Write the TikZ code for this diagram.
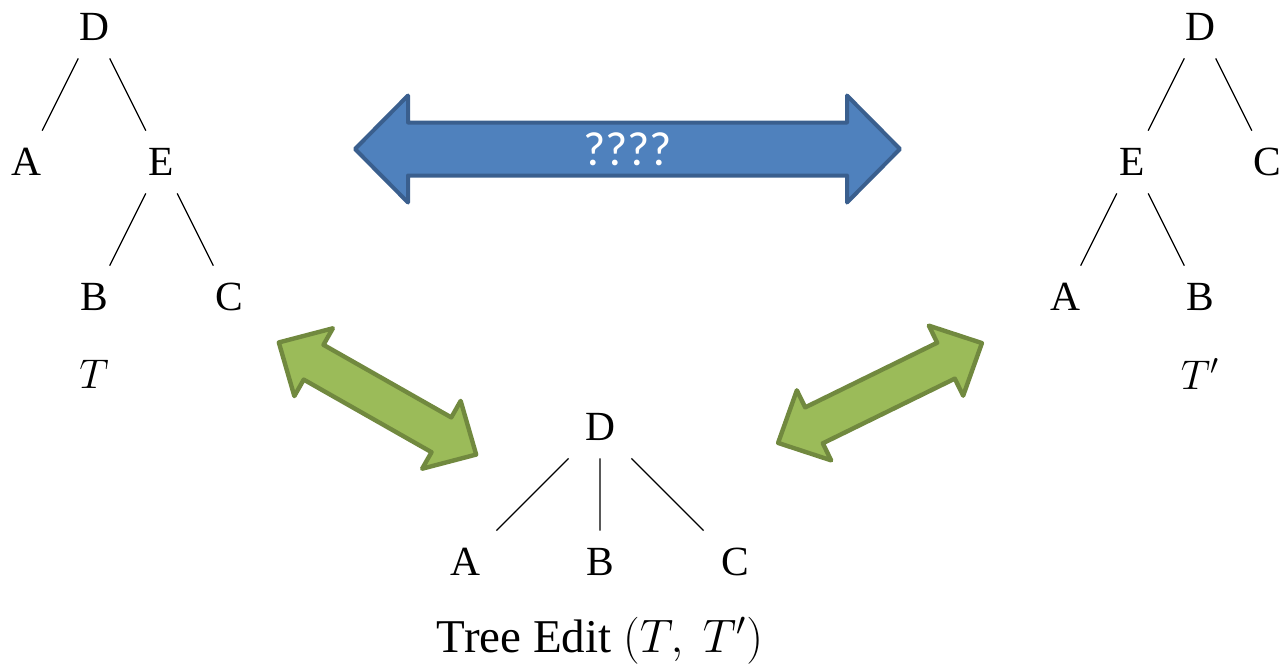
\RequirePackage{fix-cm}
\documentclass[tikz,border=0pt]{standalone}
\usepackage{fontspec}
\setmainfont{Liberation Serif}
\newfontfamily\boxfont{Carlito}
\usetikzlibrary{positioning}
\definecolor{arrowblue}{HTML}{4F81BD}
\definecolor{arrowblueline}{HTML}{3A5F8E}
\definecolor{arrowgreen}{HTML}{9BBB59}
\definecolor{arrowgreenline}{HTML}{71893F}
\tikzset{
  lbl/.style={minimum size=31pt, inner sep=0pt, font=\huge},
  branch/.style={line width=0.6pt},
  bluearrow/.style={draw=arrowblueline, fill=arrowblue, line width=2pt, line join=round},
  greenarrow/.style={draw=arrowgreenline, fill=arrowgreen, line width=2.2pt, line join=round},
  % half length, head length, head half width, shaft half width
  pics/dblarrow/.style n args={4}{code={
    \path[pic actions] (-#1,0) -- (-#1+#2,#3) -- (-#1+#2,#4) -- (#1-#2,#4)
      -- (#1-#2,#3) -- (#1,0) -- (#1-#2,-#3) -- (#1-#2,-#4)
      -- (-#1+#2,-#4) -- (-#1+#2,-#3) -- cycle;
  }}
}

\begin{document}
\begin{tikzpicture}[x=0.5pt, y=-0.5pt, on grid, node distance=67.5pt and 33.75pt]
\useasboundingbox (0,0) rectangle (1285,670);

% tree T
\node[lbl] (D1) at (94,27) {D};
\node[lbl, below left=of D1] (A1) {A};
\node[lbl, below right=of D1] (E1) {E};
\node[lbl, below left=of E1] (B1) {B};
\node[lbl, below right=of E1] (C1) {C};
\node[font=\huge, below=38.5pt of B1] (T1) {$T$};
\draw[branch] (D1) -- (A1) (D1) -- (E1) (E1) -- (B1) (E1) -- (C1);

% tree T'
\node[lbl] (D2) at (1200,27) {D};
\node[lbl, below left=of D2] (E2) {E};
\node[lbl, below right=of D2] (C2) {C};
\node[lbl, below left=of E2] (A2) {A};
\node[lbl, below right=of E2] (B2) {B};
\node[font=\huge, below=38.5pt of B2] (T2) {$T'$};
\draw[branch] (D2) -- (E2) (D2) -- (C2) (E2) -- (A2) (E2) -- (B2);

% edited tree
\node[lbl] (D3) at (600,427) {D};
\node[lbl, below left=67.5pt and 67.5pt of D3] (A3) {A};
\node[lbl, below=of D3] (B3) {B};
\node[lbl, below right=67.5pt and 67.5pt of D3] (C3) {C};
\node[font=\fontsize{23.5}{28}\selectfont, below=39.5pt of B3] (edit) {Tree Edit $(T,\ T')$};
\draw[branch] (D3) -- (A3) (D3) -- (B3) (D3) -- (C3);

% block arrows
\pic[bluearrow] at (627.5,149) {dblarrow={272.5}{53}{53.5}{26.5}};
\node[font=\boxfont\fontsize{24}{28}\selectfont, text=white] (q) at (627.5,149) {????};
\pic[greenarrow, rotate=-29.6] at (377.5,398.5) {dblarrow={113.5}{40}{39}{20}};
\pic[greenarrow, rotate=26.1] at (880,393) {dblarrow={113.5}{40}{39}{20}};
\end{tikzpicture}
\end{document}
